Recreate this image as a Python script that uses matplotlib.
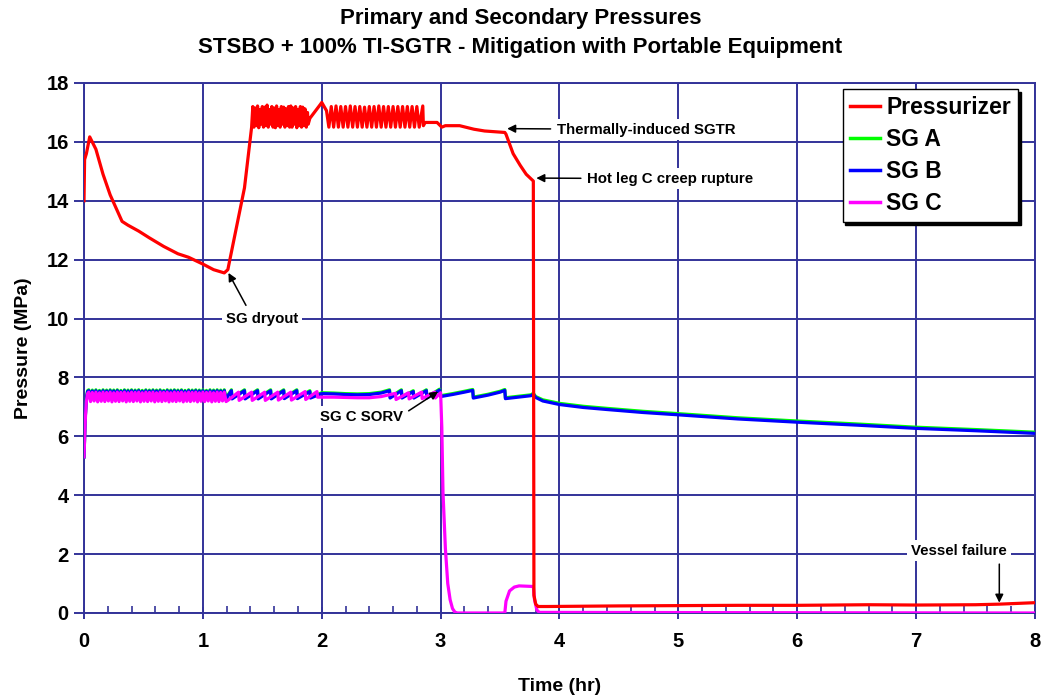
import numpy as np
import matplotlib
matplotlib.use('Agg')
import matplotlib.pyplot as plt
from matplotlib.ticker import MultipleLocator

plt.rcParams['font.family'] = ['Liberation Sans', 'DejaVu Sans']
plt.rcParams['font.weight'] = 'bold'

########################## data (time in hr, pressure in MPa)
# Pressurizer
prz_time = [0.0, 0.005, 0.02, 0.048, 0.1, 0.16, 0.22, 0.32, 0.37, 0.46, 0.55, 0.67, 0.79, 0.88,
            1.0, 1.09, 1.18, 1.21, 1.27, 1.35, 1.41,
            # dense cycling band
            1.42, 1.43, 1.44, 1.45, 1.46, 1.47, 1.48, 1.49, 1.50, 1.51, 1.52, 1.53, 1.54, 1.55,
            1.56, 1.57, 1.58, 1.59, 1.60, 1.61, 1.62, 1.63, 1.64, 1.65, 1.66, 1.67, 1.68, 1.69,
            1.70, 1.71, 1.72, 1.73, 1.74, 1.75, 1.76, 1.77, 1.78, 1.79, 1.80, 1.81, 1.82, 1.83,
            1.84, 1.85, 1.86, 1.87, 1.88,
            1.886, 1.9, 1.99, 2.0, 2.04,
            # sawtooth
            2.06, 2.08, 2.10, 2.12, 2.14, 2.16, 2.18, 2.20, 2.22, 2.24, 2.26, 2.28, 2.30, 2.32,
            2.34, 2.36, 2.38, 2.40, 2.42, 2.44, 2.46, 2.48, 2.50, 2.52, 2.54, 2.56, 2.58, 2.60,
            2.62, 2.64, 2.66, 2.68, 2.70, 2.72, 2.74, 2.76, 2.78, 2.80, 2.82, 2.85,
            2.855, 2.87, 2.97, 3.01, 3.04, 3.16, 3.28, 3.37, 3.54, 3.55, 3.61, 3.67, 3.72, 3.78,
            3.785, 3.80, 3.82, 3.9, 4.5, 5.0, 5.5, 6.0, 6.6, 7.0, 7.5, 7.7, 8.0]
prz_p = [14.0, 15.4, 15.6, 16.17, 15.75, 14.9, 14.2, 13.3, 13.17, 12.97, 12.74, 12.45, 12.2, 12.08,
         11.85, 11.66, 11.55, 11.66, 12.85, 14.44, 16.5,
         17.2, 16.5, 17.15, 16.55, 17.22, 16.48, 17.1, 16.6, 17.2, 16.5, 17.18, 16.55, 17.25, 16.5,
         17.1, 16.6, 17.2, 16.5, 17.15, 16.48, 17.22, 16.55, 17.1, 16.5, 17.2, 16.6, 17.18, 16.5,
         17.12, 16.55, 17.2, 16.5, 17.22, 16.5, 17.15, 16.6, 17.2, 16.48, 17.1, 16.55, 17.2, 16.5,
         17.18, 16.55, 17.12, 16.5, 17.0,
         16.6, 16.8, 17.28, 17.34, 17.06,
         16.5, 17.2, 16.5, 17.22, 16.5, 17.2, 16.5, 17.2, 16.5, 17.22, 16.5, 17.2, 16.5, 17.2,
         16.5, 17.18, 16.5, 17.2, 16.5, 17.2, 16.5, 17.22, 16.5, 17.2, 16.5, 17.2, 16.5, 17.2,
         16.5, 17.2, 16.5, 17.2, 16.5, 17.2, 16.5, 17.2, 16.5, 17.2, 16.5, 17.22,
         16.55, 16.66, 16.66, 16.5, 16.55, 16.55, 16.43, 16.37, 16.32, 16.26, 15.6, 15.2, 14.9, 14.67,
         0.6, 0.3, 0.22, 0.22, 0.24, 0.25, 0.26, 0.26, 0.28, 0.27, 0.28, 0.3, 0.35]

# steam generators: start-up, fast relief valve cycling band (shared times), then the rest
sg_start_time = [0.0, 0.01, 0.02, 0.03]
sg_a_start = [5.3, 6.6, 7.32, 7.55]
sg_b_start = [5.3, 6.6, 7.3, 7.52]
sg_c_start = [5.3, 6.5, 7.2, 7.45]

band_time = [0.04, 0.055, 0.07, 0.085, 0.10, 0.115, 0.13, 0.145, 0.16, 0.175, 0.19, 0.205,
             0.22, 0.235, 0.25, 0.265, 0.28, 0.295, 0.31, 0.325, 0.34, 0.355, 0.37, 0.385,
             0.40, 0.415, 0.43, 0.445, 0.46, 0.475, 0.49, 0.505, 0.52, 0.535, 0.55, 0.565,
             0.58, 0.595, 0.61, 0.625, 0.64, 0.655, 0.67, 0.685, 0.70, 0.715, 0.73, 0.745,
             0.76, 0.775, 0.79, 0.805, 0.82, 0.835, 0.85, 0.865, 0.88, 0.895, 0.91, 0.925,
             0.94, 0.955, 0.97, 0.985, 1.00, 1.015, 1.03, 1.045, 1.06, 1.075, 1.09, 1.105,
             1.12, 1.135, 1.15, 1.165, 1.18, 1.195]
sg_a_band = [7.58, 7.28, 7.57, 7.29, 7.58, 7.28, 7.56, 7.3, 7.58, 7.28, 7.57, 7.29,
             7.58, 7.28, 7.57, 7.3, 7.58, 7.28, 7.56, 7.29, 7.58, 7.28, 7.57, 7.3,
             7.58, 7.28, 7.57, 7.29, 7.58, 7.28, 7.56, 7.3, 7.58, 7.28, 7.57, 7.29,
             7.58, 7.28, 7.57, 7.3, 7.58, 7.28, 7.56, 7.29, 7.58, 7.28, 7.57, 7.3,
             7.58, 7.28, 7.57, 7.29, 7.58, 7.28, 7.56, 7.3, 7.58, 7.28, 7.57, 7.29,
             7.58, 7.28, 7.57, 7.3, 7.58, 7.28, 7.56, 7.29, 7.58, 7.28, 7.57, 7.3,
             7.58, 7.28, 7.57, 7.29, 7.58, 7.28]
sg_b_band = [7.55, 7.25, 7.54, 7.26, 7.55, 7.25, 7.53, 7.27, 7.55, 7.25, 7.54, 7.26,
             7.55, 7.25, 7.54, 7.27, 7.55, 7.25, 7.53, 7.26, 7.55, 7.25, 7.54, 7.27,
             7.55, 7.25, 7.54, 7.26, 7.55, 7.25, 7.53, 7.27, 7.55, 7.25, 7.54, 7.26,
             7.55, 7.25, 7.54, 7.27, 7.55, 7.25, 7.53, 7.26, 7.55, 7.25, 7.54, 7.27,
             7.55, 7.25, 7.54, 7.26, 7.55, 7.25, 7.53, 7.27, 7.55, 7.25, 7.54, 7.26,
             7.55, 7.25, 7.54, 7.27, 7.55, 7.25, 7.53, 7.26, 7.55, 7.25, 7.54, 7.27,
             7.55, 7.25, 7.54, 7.26, 7.55, 7.25]
sg_c_band = [7.5, 7.18, 7.49, 7.2, 7.5, 7.17, 7.48, 7.19, 7.5, 7.18, 7.49, 7.2,
             7.5, 7.17, 7.48, 7.19, 7.5, 7.18, 7.49, 7.2, 7.5, 7.17, 7.48, 7.19,
             7.5, 7.18, 7.49, 7.2, 7.5, 7.17, 7.48, 7.19, 7.5, 7.18, 7.49, 7.2,
             7.5, 7.17, 7.48, 7.19, 7.5, 7.18, 7.49, 7.2, 7.5, 7.17, 7.48, 7.19,
             7.5, 7.18, 7.49, 7.2, 7.5, 7.17, 7.48, 7.19, 7.5, 7.18, 7.49, 7.2,
             7.5, 7.17, 7.48, 7.19, 7.5, 7.18, 7.49, 7.2, 7.5, 7.17, 7.48, 7.19,
             7.5, 7.18, 7.49, 7.2, 7.5, 7.18]

sg_ab_late_time = [1.20, 1.24, 1.245, 1.35, 1.355, 1.46, 1.465, 1.57, 1.575, 1.68, 1.685, 1.79, 1.795,
                   1.90, 1.905, 2.0, 2.1, 2.2, 2.3, 2.4, 2.5, 2.57, 2.575, 2.67, 2.675, 2.77, 2.775,
                   2.88, 2.885, 2.99, 3.0, 3.1, 3.2, 3.27, 3.275, 3.4, 3.5, 3.54, 3.545, 3.65, 3.76,
                   3.78, 3.8, 3.86, 4.0, 4.2, 4.4, 4.7, 5.0, 5.5, 6.0, 6.5, 7.0, 7.5, 8.0]
sg_a_late = [7.33, 7.58, 7.3, 7.58, 7.3, 7.58, 7.3, 7.58, 7.3, 7.58, 7.31, 7.58, 7.31,
             7.55, 7.33, 7.48, 7.47, 7.45, 7.44, 7.45, 7.5, 7.58, 7.33, 7.58, 7.33, 7.55, 7.33,
             7.58, 7.33, 7.6, 7.38, 7.45, 7.53, 7.59, 7.33, 7.43, 7.53, 7.59, 7.31, 7.36, 7.41,
             7.46, 7.35, 7.24, 7.12, 7.02, 6.95, 6.85, 6.77, 6.63, 6.52, 6.42, 6.31, 6.23, 6.14]
sg_b_late = [7.3, 7.55, 7.27, 7.55, 7.27, 7.55, 7.27, 7.55, 7.27, 7.55, 7.28, 7.55, 7.28,
             7.52, 7.3, 7.45, 7.44, 7.42, 7.41, 7.42, 7.47, 7.55, 7.3, 7.55, 7.3, 7.52, 7.3,
             7.55, 7.3, 7.57, 7.35, 7.42, 7.5, 7.56, 7.3, 7.4, 7.5, 7.56, 7.28, 7.33, 7.38,
             7.43, 7.32, 7.2, 7.08, 6.98, 6.91, 6.81, 6.73, 6.59, 6.48, 6.38, 6.27, 6.19, 6.1]

sg_c_late_time = [1.21, 1.30, 1.305, 1.41, 1.415, 1.52, 1.525, 1.63, 1.635, 1.74, 1.745, 1.86, 1.865,
                  1.96, 1.965, 2.1, 2.2, 2.3, 2.4, 2.5, 2.62, 2.625, 2.73, 2.735, 2.84, 2.845,
                  2.95, 2.955, 3.0, 3.01, 3.02, 3.04, 3.06, 3.08, 3.1, 3.12, 3.14, 3.54, 3.55, 3.58,
                  3.62, 3.66, 3.78, 3.79, 3.81, 3.83, 8.0]
sg_c_late = [7.22, 7.5, 7.22, 7.5, 7.22, 7.5, 7.22, 7.5, 7.23, 7.5, 7.23, 7.52, 7.25,
             7.52, 7.33, 7.33, 7.32, 7.31, 7.31, 7.35, 7.46, 7.25, 7.48, 7.27, 7.5, 7.28,
             7.5, 7.3, 7.48, 6.3, 4.1, 2.2, 1.0, 0.45, 0.15, 0.03, 0.0, 0.0, 0.4, 0.75,
             0.88, 0.92, 0.9, 0.45, 0.1, 0.02, 0.0]

labels = ['Pressurizer', 'SG A', 'SG B', 'SG C']
colors = ['#ff0000', '#00ff00', '#0000ff', '#ff00ff']

navy = '#333399'

sg_ab_time = sg_start_time + band_time + sg_ab_late_time
sg_c_time = sg_start_time + band_time + sg_c_late_time
sg_a_p = sg_a_start + sg_a_band + sg_a_late
sg_b_p = sg_b_start + sg_b_band + sg_b_late
sg_c_p = sg_c_start + sg_c_band + sg_c_late

fig = plt.figure(figsize=(10.41, 6.98), dpi=100)
ax = fig.add_axes([0.0807, 0.1218, 0.9135, 0.7593])

ax.plot(prz_time, prz_p, color=colors[0], lw=2.3, label=labels[0], zorder=4)
ax.plot(sg_ab_time, sg_a_p, color=colors[1], lw=2.3, label=labels[1], zorder=3)
ax.plot(sg_ab_time, sg_b_p, color=colors[2], lw=2.3, label=labels[2], zorder=3)
ax.plot(sg_c_time, sg_c_p, color=colors[3], lw=2.3, label=labels[3], zorder=3)

ax.set_xlim(0, 8)
ax.set_ylim(0, 18)
ax.xaxis.set_major_locator(MultipleLocator(1))
ax.xaxis.set_minor_locator(MultipleLocator(0.2))
ax.yaxis.set_major_locator(MultipleLocator(2))
ax.grid(True, which='major', color=navy, lw=1.4, zorder=1)
for s in ax.spines.values():
    s.set_color(navy)
    s.set_linewidth(1.4)
ax.tick_params(axis='y', which='major', direction='out', length=7, width=1.4, color=navy,
               labelsize=14.5, pad=4)
ax.tick_params(axis='x', which='major', direction='inout', length=8, width=1.4, color=navy,
               labelsize=14.5, pad=10)
ax.tick_params(axis='x', which='minor', direction='in', length=5, width=1.2, color=navy)
for lab in ax.get_xticklabels() + ax.get_yticklabels():
    lab.set_fontweight('bold')

ax.set_xlabel('Time (hr)', fontsize=14, fontweight='bold', labelpad=19)
ax.set_ylabel('Pressure (MPa)', fontsize=14, fontweight='bold', labelpad=10)
fig.suptitle('Primary and Secondary Pressures\nSTSBO + 100% TI-SGTR - Mitigation with Portable Equipment',
             fontsize=16, fontweight='bold', y=0.988, linespacing=1.45)

# annotations
bbox = dict(boxstyle='square,pad=0.25', fc='white', ec='none')
arr = dict(arrowstyle='-|>', color='black', lw=1.1, mutation_scale=12, shrinkA=2, shrinkB=0)
afs = 10.8
ax.annotate('Thermally-induced SGTR', xy=(3.56, 16.45), xytext=(3.98, 16.42),
            fontsize=afs, fontweight='bold', va='center', ha='left', bbox=bbox, arrowprops=arr, zorder=6)
ax.annotate('Hot leg C creep rupture', xy=(3.805, 14.77), xytext=(4.235, 14.75),
            fontsize=afs, fontweight='bold', va='center', ha='left', bbox=bbox, arrowprops=arr, zorder=6)
ax.annotate('SG dryout', xy=(1.215, 11.55), xytext=(1.5, 10.0),
            fontsize=afs, fontweight='bold', va='center', ha='center', bbox=bbox,
            arrowprops=dict(arr, relpos=(0.32, 1.0)), zorder=6)
ax.annotate('SG C SORV', xy=(2.98, 7.52), xytext=(2.68, 6.66),
            fontsize=afs, fontweight='bold', va='center', ha='right', bbox=bbox,
            arrowprops=dict(arr, relpos=(1.0, 0.65)), zorder=6)
ax.text(7.36, 2.12, 'Vessel failure', fontsize=afs, fontweight='bold', va='center', ha='center',
        bbox=bbox, zorder=6)
ax.annotate('', xy=(7.70, 0.35), xytext=(7.70, 1.66), arrowprops=dict(arr, shrinkA=0), zorder=6)

leg = ax.legend(loc='upper right', bbox_to_anchor=(0.982, 0.989), borderaxespad=0,
                fancybox=False, shadow={'color': 'black', 'alpha': 1.0},
                prop={'size': 16.5, 'weight': 'bold'}, handlelength=1.35, handletextpad=0.25,
                labelspacing=0.4, borderpad=0.3)
leg.get_frame().set_edgecolor('black')
leg.get_frame().set_linewidth(1.0)
leg.set_zorder(7)
for h in leg.get_lines():
    h.set_linewidth(2.5)

fig.savefig('out.png', dpi=100)
